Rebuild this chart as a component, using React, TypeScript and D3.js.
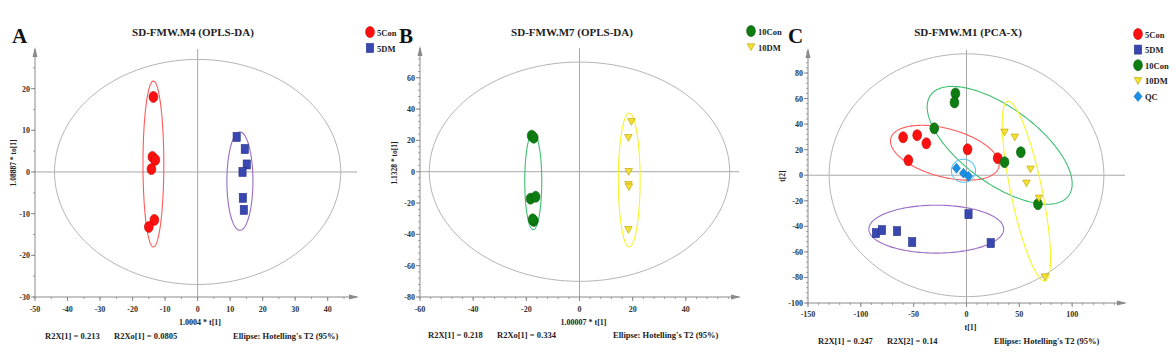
import React from 'react';
import * as d3 from 'd3';

type P = [number, number];

// ---------- Panel A data (OPLS-DA 5Con vs 5DM) ----------
const a5Con: P[] = [[-13.6, 18.0], [-13.9, 3.6], [-13.0, 2.9], [-14.2, 0.7], [-13.3, -11.5], [-15.0, -13.2]];
const a5DM: P[] = [[12.0, 8.4], [14.5, 5.5], [15.1, 1.8], [13.8, 0.0], [13.9, -6.2], [14.2, -9.1]];
const aXTicks = [-50, -40, -30, -20, -10, 0, 10, 20, 30, 40];
const aYTicks = [-30, -20, -10, 0, 10, 20];
const aT2 = [44, 27];
const aFooter = ['R2X[1] = 0.213', 'R2Xo[1] = 0.0805', "Ellipse: Hotelling's T2 (95%)"];

// ---------- Panel B data (OPLS-DA 10Con vs 10DM) ----------
const b10Con: P[] = [[-18.0, 23.0], [-17.2, 21.7], [-18.4, -17.2], [-16.5, -16.0], [-17.2, -31.4], [-17.6, -30.4]];
const b10DM: P[] = [[19.5, 32.0], [18.4, 21.7], [18.5, 0.0], [18.4, -8.3], [18.6, -9.8], [18.4, -37.0]];
const bXTicks = [-60, -40, -20, 0, 20, 40];
const bYTicks = [-80, -60, -40, -20, 0, 20, 40, 60];
const bT2 = [56.5, 70];
const bFooter = ['R2X[1] = 0.218', 'R2Xo[1] = 0.334', "Ellipse: Hotelling's T2 (95%)"];

// ---------- Panel C data (PCA-X) ----------
const c5Con: P[] = [[-60, 29.7], [-46.7, 31.3], [-38, 25], [-55, 11.7], [1, 20.3], [29.5, 13.3]];
const c5DM: P[] = [[-85.7, -45.3], [-80, -43], [-65.7, -43.8], [-51.4, -52.3], [1.9, -30.5], [22.9, -53.1]];
const c10Con: P[] = [[-10.5, 64], [-11.4, 57], [-30.5, 36.7], [36, 10.2], [51.4, 18], [67.6, -22.7]];
const c10DM: P[] = [[36, 33.6], [45.7, 29.7], [60.6, 4.7], [56.8, -6.3], [68.6, -18], [74.3, -79.7]];
const cQC: P[] = [[-9.5, 5.5], [-2.9, 1.6], [1.9, -0.8]];
const cXTicks = [-150, -100, -50, 0, 50, 100];
const cYTicks = [-100, -80, -60, -40, -20, 0, 20, 40, 60, 80];
const cT2 = [130, 95];
const cFooter = ['R2X[1] = 0.247', 'R2X[2] = 0.14', "Ellipse: Hotelling's T2 (95%)"];

// group ellipses: [cx, cy, a, b, angleDeg]
const aEll5Con = [-13.6, 1.9, 3.2, 19.9, 0];
const aEll5DM = [13.0, -2.2, 4.0, 11.8, 0];
const bEll10Con = [-17.4, -6.0, 3.2, 31.0, 0];
const bEll10DM = [18.7, -5.3, 4.1, 42.7, 0];
const cEll5Con = [-20.5, 17.6, 52.4, 19.1, -11.6];
const cEll5DM = [-28.6, -42.2, 63.8, 18.75, 0];
const cEll10Con = [31.4, 23.4, 76.5, 31.3, -29];
const cEll10DM = [56.7, -12.5, 72.5, 14.7, -75.7];
const cEllQC = [-2.9, 3.5, 11.4, 9.0, 0];

const FONT = '"Liberation Serif", "DejaVu Serif", serif';

type Shape = 'circle' | 'square' | 'triDown' | 'diamond';
const STYLE: Record<string, { fill: string; stroke: string; shape: Shape; ell: string }> = {
  '5Con': { fill: '#ff1010', stroke: '#c00000', shape: 'circle', ell: '#ff5a5a' },
  '5DM': { fill: '#3848b0', stroke: '#25308a', shape: 'square', ell: '#9a6cc6' },
  '10Con': { fill: '#0d7d12', stroke: '#075a0a', shape: 'circle', ell: '#3fbf70' },
  '10DM': { fill: '#f2e034', stroke: '#b9a000', shape: 'triDown', ell: '#f5f52a' },
  QC: { fill: '#1a8fe6', stroke: '#1170b8', shape: 'diamond', ell: '#5ec4ee' },
};

function Marker({ x, y, g }: { x: number; y: number; g: string }) {
  const s = STYLE[g];
  const common = { fill: s.fill, stroke: s.stroke, strokeWidth: 0.6 } as any;
  if (s.shape === 'circle') return <ellipse cx={x} cy={y} rx={4.4} ry={5.5} {...common} />;
  if (s.shape === 'square') return <rect x={x - 3.6} y={y - 4.5} width={7.2} height={9} {...common} />;
  if (s.shape === 'triDown')
    return <path d={`M${x - 3.8},${y - 3.2}L${x + 3.8},${y - 3.2}L${x},${y + 3.6}Z`} {...common} />;
  return <path d={`M${x},${y - 5}L${x + 4},${y}L${x},${y + 5}L${x - 4},${y}Z`} {...common} />;
}

function ellipsePath(e: number[], sx: d3.ScaleLinear<number, number>, sy: d3.ScaleLinear<number, number>) {
  const [cx, cy, a, b, ang] = e;
  const th = (ang * Math.PI) / 180;
  const pts: P[] = d3.range(0, 201).map((i) => {
    const t = (i / 200) * Math.PI * 2;
    const x = cx + a * Math.cos(th) * Math.cos(t) - b * Math.sin(th) * Math.sin(t);
    const y = cy + a * Math.sin(th) * Math.cos(t) + b * Math.cos(th) * Math.sin(t);
    return [sx(x), sy(y)];
  });
  return d3.line()(pts) as string;
}

type PanelProps = {
  xDomain: [number, number]; xRange: [number, number];
  yDomain: [number, number]; yRange: [number, number];
  xTicks: number[]; yTicks: number[]; xMinor: number; yMinor: number;
  t2: number[]; ellipses: { e: number[]; g: string }[];
  series: { pts: P[]; g: string }[];
  title: string; titleX: number; letter: string; letterX: number;
  legend: string[]; legendX: number; legendY: number; legendStep: number;
  yLabel: string; yLabelX: number; yLabelY: number;
  xLabel: string; xLabelY: number; tickLabelY: number;
  footer: string[]; footerX: number[]; footerY: number;
};

function Panel(p: PanelProps) {
  const sx = d3.scaleLinear().domain(p.xDomain).range(p.xRange);
  const sy = d3.scaleLinear().domain(p.yDomain).range(p.yRange);
  const x0 = p.xRange[0], x1 = p.xRange[1];
  const yb = p.yRange[0], yt = p.yRange[1];
  const axisCol = '#8a8a8a';
  const xMinorT = d3.range(Math.ceil(p.xDomain[0] / p.xMinor) * p.xMinor, p.xDomain[1], p.xMinor);
  const yMinorT = d3.range(Math.ceil(p.yDomain[0] / p.yMinor) * p.yMinor, p.yDomain[1], p.yMinor);
  return (
    <g fontFamily={FONT} fontWeight="bold">
      <line x1={x0} x2={x1} y1={sy(0)} y2={sy(0)} stroke="#a8a8a8" strokeWidth={1} />
      <line x1={sx(0)} x2={sx(0)} y1={yt} y2={yb} stroke="#a8a8a8" strokeWidth={1} />
      <path d={ellipsePath([0, 0, p.t2[0], p.t2[1], 0], sx, sy)} fill="none" stroke="#b4b4b4" strokeWidth={1} />
      {p.ellipses.map((el, i) => (
        <path key={i} d={ellipsePath(el.e, sx, sy)} fill="none" stroke={STYLE[el.g].ell} strokeWidth={1.1} />
      ))}
      <line x1={x0} x2={x0} y1={yt} y2={yb} stroke={axisCol} strokeWidth={1} />
      <line x1={x0} x2={x1} y1={yb} y2={yb} stroke={axisCol} strokeWidth={1} />
      <path d={`M${x0 - 2.5},${yt + 8}L${x0},${yt - 2}L${x0 + 2.5},${yt + 8}Z`} fill={axisCol} />
      <path d={`M${x1 - 8},${yb - 2.5}L${x1 + 2},${yb}L${x1 - 8},${yb + 2.5}Z`} fill={axisCol} />
      {yMinorT.map((v) => (
        <line key={'ym' + v} x1={x0 - 2} x2={x0} y1={sy(v)} y2={sy(v)} stroke={axisCol} strokeWidth={0.8} />
      ))}
      {xMinorT.map((v) => (
        <line key={'xm' + v} x1={sx(v)} x2={sx(v)} y1={yb} y2={yb + 2} stroke={axisCol} strokeWidth={0.8} />
      ))}
      {p.yTicks.map((v) => (
        <g key={'y' + v}>
          <line x1={x0 - 4} x2={x0} y1={sy(v)} y2={sy(v)} stroke={axisCol} strokeWidth={1} />
          <text x={x0 - 5} y={sy(v) + 3} fontSize={8} textAnchor="end" fill="#333">{v}</text>
        </g>
      ))}
      {p.xTicks.map((v) => (
        <g key={'x' + v}>
          <line x1={sx(v)} x2={sx(v)} y1={yb} y2={yb + 4} stroke={axisCol} strokeWidth={1} />
          <text x={sx(v)} y={p.tickLabelY} fontSize={8} textAnchor="middle" fill="#333">{v}</text>
        </g>
      ))}
      {p.series.map((s) =>
        s.pts.map((pt, i) => <Marker key={s.g + i} x={sx(pt[0])} y={sy(pt[1])} g={s.g} />)
      )}
      <text x={p.titleX} y={36} fontSize={11} textAnchor="middle" fill="#222">{p.title}</text>
      <text x={p.letterX} y={43} fontSize={21} fill="#111">{p.letter}</text>
      <text transform={`translate(${p.yLabelX},${p.yLabelY}) rotate(-90)`} fontSize={7.5} textAnchor="middle" fill="#222">{p.yLabel}</text>
      <text x={(x0 + x1) / 2 + 4} y={p.xLabelY} fontSize={8} textAnchor="middle" fill="#222">{p.xLabel}</text>
      {p.footer.map((f, i) => (
        <text key={f} x={p.footerX[i]} y={p.footerY} fontSize={8.5} fill="#222">{f}</text>
      ))}
      {p.legend.map((g, i) => (
        <g key={g}>
          <Marker x={p.legendX} y={p.legendY + i * p.legendStep} g={g} />
          <text x={p.legendX + 7} y={p.legendY + i * p.legendStep + 3.5} fontSize={8.5} fill="#222">{g}</text>
        </g>
      ))}
    </g>
  );
}

export default function App() {
  return (
    <svg width={1176} height={356} style={{ position: 'absolute', left: 0, top: 0, background: '#fff' }}>
      <rect width={1176} height={356} fill="#fff" />
      <Panel
        xDomain={[-50, 49]} xRange={[35, 357]} yDomain={[-30, 29.5]} yRange={[297, 49]}
        xTicks={aXTicks} yTicks={aYTicks} xMinor={5} yMinor={5}
        t2={aT2}
        ellipses={[{ e: aEll5Con, g: '5Con' }, { e: aEll5DM, g: '5DM' }]}
        series={[{ pts: a5Con, g: '5Con' }, { pts: a5DM, g: '5DM' }]}
        title="SD-FMW.M4 (OPLS-DA)" titleX={193} letter="A" letterX={12}
        legend={['5Con', '5DM']} legendX={370} legendY={32} legendStep={16}
        yLabel="1.08887 * to[1]" yLabelX={16} yLabelY={163}
        xLabel="1.0004 * t[1]" xLabelY={325} tickLabelY={312}
        footer={aFooter} footerX={[45, 114, 233]} footerY={339}
      />
      <Panel
        xDomain={[-60, 60]} xRange={[420, 739]} yDomain={[-80, 79]} yRange={[297, 48]}
        xTicks={bXTicks} yTicks={bYTicks} xMinor={4} yMinor={4}
        t2={bT2}
        ellipses={[{ e: bEll10Con, g: '10Con' }, { e: bEll10DM, g: '10DM' }]}
        series={[{ pts: b10Con, g: '10Con' }, { pts: b10DM, g: '10DM' }]}
        title="SD-FMW.M7 (OPLS-DA)" titleX={572} letter="B" letterX={399}
        legend={['10Con', '10DM']} legendX={751} legendY={31} legendStep={16}
        yLabel="1.1328 * to[1]" yLabelX={397} yLabelY={163}
        xLabel="1.00007 * t[1]" xLabelY={325} tickLabelY={312}
        footer={bFooter} footerX={[428, 497, 613]} footerY={338}
      />
      <Panel
        xDomain={[-150, 150]} xRange={[808, 1125]} yDomain={[-100, 98]} yRange={[303, 50]}
        xTicks={cXTicks} yTicks={cYTicks} xMinor={10} yMinor={4}
        t2={cT2}
        ellipses={[
          { e: cEll5Con, g: '5Con' }, { e: cEll5DM, g: '5DM' }, { e: cEll10Con, g: '10Con' },
          { e: cEll10DM, g: '10DM' }, { e: cEllQC, g: 'QC' },
        ]}
        series={[
          { pts: c5Con, g: '5Con' }, { pts: c5DM, g: '5DM' }, { pts: c10Con, g: '10Con' },
          { pts: c10DM, g: '10DM' }, { pts: cQC, g: 'QC' },
        ]}
        title="SD-FMW.M1 (PCA-X)" titleX={968} letter="C" letterX={788}
        legend={['5Con', '5DM', '10Con', '10DM', 'QC']} legendX={1138} legendY={34} legendStep={15.6}
        yLabel="t[2]" yLabelX={785} yLabelY={176}
        xLabel="t[1]" xLabelY={330} tickLabelY={317}
        footer={cFooter} footerX={[818, 887, 994]} footerY={344}
      />
    </svg>
  );
}
